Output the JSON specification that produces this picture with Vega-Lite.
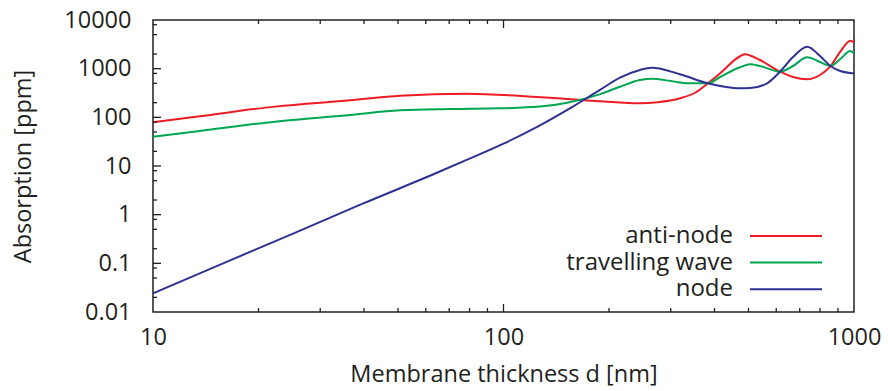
{
  "$schema": "https://vega.github.io/schema/vega-lite/v6.json",
  "width": 701,
  "height": 292,
  "autosize": "none",
  "padding": {"left": 153, "top": 20, "right": 34, "bottom": 79},
  "background": "white",
  "config": {
    "font": "Open Sans",
    "view": {"stroke": "#231f20", "strokeWidth": 1.5},
    "axis": {"domain": false, "ticks": false, "grid": false, "labelColor": "#231f20", "titleColor": "#231f20", "labelFontSize": 23.5, "titleFontSize": 23.5, "titleFontWeight": "normal", "labelOverlap": false, "labelFlush": false}
  },
  "datasets": {
    "xticks": [
      {"t": 20, "kind": "minor"}, {"t": 30, "kind": "minor"}, {"t": 40, "kind": "minor"}, {"t": 50, "kind": "minor"},
      {"t": 60, "kind": "minor"}, {"t": 70, "kind": "minor"}, {"t": 80, "kind": "minor"}, {"t": 90, "kind": "minor"},
      {"t": 100, "kind": "major"},
      {"t": 200, "kind": "minor"}, {"t": 300, "kind": "minor"}, {"t": 400, "kind": "minor"}, {"t": 500, "kind": "minor"},
      {"t": 600, "kind": "minor"}, {"t": 700, "kind": "minor"}, {"t": 800, "kind": "minor"}, {"t": 900, "kind": "minor"}
    ],
    "yticks": [
      {"t": 0.02, "kind": "minor"}, {"t": 0.05, "kind": "minor"}, {"t": 0.08, "kind": "minor"}, {"t": 0.1, "kind": "major"},
      {"t": 0.2, "kind": "minor"}, {"t": 0.5, "kind": "minor"}, {"t": 0.8, "kind": "minor"}, {"t": 1, "kind": "major"},
      {"t": 2, "kind": "minor"}, {"t": 5, "kind": "minor"}, {"t": 8, "kind": "minor"}, {"t": 10, "kind": "major"},
      {"t": 20, "kind": "minor"}, {"t": 50, "kind": "minor"}, {"t": 80, "kind": "minor"}, {"t": 100, "kind": "major"},
      {"t": 200, "kind": "minor"}, {"t": 500, "kind": "minor"}, {"t": 800, "kind": "minor"}, {"t": 1000, "kind": "major"},
      {"t": 2000, "kind": "minor"}, {"t": 5000, "kind": "minor"}, {"t": 8000, "kind": "minor"}
    ],
    "curves": [
      {"d": 10, "A": 79, "s": "anti-node"},
      {"d": 13.6, "A": 105, "s": "anti-node"},
      {"d": 22.3, "A": 166, "s": "anti-node"},
      {"d": 36.5, "A": 224, "s": "anti-node"},
      {"d": 50.7, "A": 279, "s": "anti-node"},
      {"d": 78.7, "A": 306, "s": "anti-node"},
      {"d": 121, "A": 266, "s": "anti-node"},
      {"d": 152, "A": 238, "s": "anti-node"},
      {"d": 167, "A": 227, "s": "anti-node"},
      {"d": 188, "A": 214, "s": "anti-node"},
      {"d": 215, "A": 202, "s": "anti-node"},
      {"d": 245, "A": 195, "s": "anti-node"},
      {"d": 275, "A": 204, "s": "anti-node"},
      {"d": 319, "A": 246, "s": "anti-node"},
      {"d": 352, "A": 320, "s": "anti-node"},
      {"d": 383, "A": 500, "s": "anti-node"},
      {"d": 415, "A": 804, "s": "anti-node"},
      {"d": 473, "A": 1800, "s": "anti-node"},
      {"d": 489, "A": 1973, "s": "anti-node"},
      {"d": 505, "A": 1870, "s": "anti-node"},
      {"d": 539, "A": 1507, "s": "anti-node"},
      {"d": 615, "A": 867, "s": "anti-node"},
      {"d": 670, "A": 674, "s": "anti-node"},
      {"d": 735, "A": 605, "s": "anti-node"},
      {"d": 800, "A": 741, "s": "anti-node"},
      {"d": 855, "A": 1098, "s": "anti-node"},
      {"d": 914, "A": 2233, "s": "anti-node"},
      {"d": 976, "A": 3758, "s": "anti-node"},
      {"d": 1000, "A": 3483, "s": "anti-node"},
      {"d": 10, "A": 40, "s": "travelling wave"},
      {"d": 13.6, "A": 52.4, "s": "travelling wave"},
      {"d": 22.3, "A": 81.5, "s": "travelling wave"},
      {"d": 36.5, "A": 112, "s": "travelling wave"},
      {"d": 50.7, "A": 139, "s": "travelling wave"},
      {"d": 70.3, "A": 148, "s": "travelling wave"},
      {"d": 97.7, "A": 153, "s": "travelling wave"},
      {"d": 127, "A": 166, "s": "travelling wave"},
      {"d": 152, "A": 200, "s": "travelling wave"},
      {"d": 188, "A": 297, "s": "travelling wave"},
      {"d": 215, "A": 426, "s": "travelling wave"},
      {"d": 245, "A": 585, "s": "travelling wave"},
      {"d": 265, "A": 622, "s": "travelling wave"},
      {"d": 300, "A": 558, "s": "travelling wave"},
      {"d": 335, "A": 500, "s": "travelling wave"},
      {"d": 383, "A": 500, "s": "travelling wave"},
      {"d": 415, "A": 674, "s": "travelling wave"},
      {"d": 473, "A": 1067, "s": "travelling wave"},
      {"d": 505, "A": 1230, "s": "travelling wave"},
      {"d": 539, "A": 1135, "s": "travelling wave"},
      {"d": 615, "A": 867, "s": "travelling wave"},
      {"d": 670, "A": 1135, "s": "travelling wave"},
      {"d": 735, "A": 1714, "s": "travelling wave"},
      {"d": 800, "A": 1371, "s": "travelling wave"},
      {"d": 855, "A": 1135, "s": "travelling wave"},
      {"d": 914, "A": 1580, "s": "travelling wave"},
      {"d": 976, "A": 2306, "s": "travelling wave"},
      {"d": 1000, "A": 2070, "s": "travelling wave"},
      {"d": 10, "A": 0.0242, "s": "node"},
      {"d": 15.85, "A": 0.1, "s": "node"},
      {"d": 25.1, "A": 0.407, "s": "node"},
      {"d": 39.8, "A": 1.7, "s": "node"},
      {"d": 63.1, "A": 6.76, "s": "node"},
      {"d": 79.4, "A": 13.8, "s": "node"},
      {"d": 100, "A": 28.8, "s": "node"},
      {"d": 125.9, "A": 66, "s": "node"},
      {"d": 158.5, "A": 170, "s": "node"},
      {"d": 188, "A": 363, "s": "node"},
      {"d": 215, "A": 652, "s": "node"},
      {"d": 245, "A": 939, "s": "node"},
      {"d": 265, "A": 1047, "s": "node"},
      {"d": 319, "A": 766, "s": "node"},
      {"d": 383, "A": 500, "s": "node"},
      {"d": 415, "A": 441, "s": "node"},
      {"d": 473, "A": 395, "s": "node"},
      {"d": 505, "A": 400, "s": "node"},
      {"d": 565, "A": 500, "s": "node"},
      {"d": 615, "A": 867, "s": "node"},
      {"d": 670, "A": 1738, "s": "node"},
      {"d": 735, "A": 2828, "s": "node"},
      {"d": 800, "A": 1820, "s": "node"},
      {"d": 855, "A": 1151, "s": "node"},
      {"d": 914, "A": 896, "s": "node"},
      {"d": 976, "A": 815, "s": "node"},
      {"d": 1000, "A": 804, "s": "node"}
    ]
  },
  "layer": [
    {
      "data": {"name": "curves"},
      "mark": {"type": "line", "interpolate": "monotone", "strokeWidth": 2},
      "encoding": {
        "x": {"field": "d", "type": "quantitative", "title": "Membrane thickness d [nm]",
          "scale": {"type": "log", "domain": [10, 1000], "nice": false},
          "axis": {"orient": "bottom",
            "values": [10, 100, 1000], "format": "d",
            "labelPadding": 13, "titleY": 69, "titleBaseline": "alphabetic"}},
        "y": {"field": "A", "type": "quantitative", "title": "Absorption [ppm]",
          "scale": {"type": "log", "domain": [0.01, 10000], "nice": false},
          "axis": {"orient": "left",
            "values": [0.01, 0.1, 1, 10, 100, 1000, 10000], "format": "~g",
            "labelPadding": 22, "titleX": -130, "titleBaseline": "middle"}},
        "color": {"field": "s", "type": "nominal",
          "scale": {"domain": ["anti-node", "travelling wave", "node"], "range": ["#ed1c24", "#00a651", "#2e3192"]},
          "legend": {"title": null, "orient": "none", "legendX": 621, "legendY": 204, "direction": "vertical",
            "symbolType": "M-9,0H9", "symbolSize": 64, "symbolStrokeWidth": 2, "rowPadding": 2.6,
            "labelAlign": "right", "labelOffset": -65, "labelFontSize": 24, "labelColor": "#231f20", "labelLimit": 400, "padding": 0}}
      }
    },
    {
      "data": {"name": "xticks"},
      "mark": {"type": "tick", "orient": "vertical", "thickness": 1.3, "color": "#231f20", "opacity": 1, "clip": true},
      "encoding": {
        "x": {"field": "t", "type": "quantitative", "title": "Membrane thickness d [nm]"},
        "y": {"datum": 0.01, "type": "quantitative", "title": "Absorption [ppm]"},
        "size": {"field": "kind", "type": "nominal", "scale": {"domain": ["major", "minor"], "range": [16, 8]}, "legend": null}
      }
    },
    {
      "data": {"name": "xticks"},
      "mark": {"type": "tick", "orient": "vertical", "thickness": 1.3, "color": "#231f20", "opacity": 1, "clip": true},
      "encoding": {
        "x": {"field": "t", "type": "quantitative", "title": "Membrane thickness d [nm]"},
        "y": {"datum": 10000, "type": "quantitative", "title": "Absorption [ppm]"},
        "size": {"field": "kind", "type": "nominal", "scale": {"domain": ["major", "minor"], "range": [16, 8]}, "legend": null}
      }
    },
    {
      "data": {"name": "yticks"},
      "mark": {"type": "tick", "orient": "horizontal", "thickness": 1.3, "color": "#231f20", "opacity": 1, "clip": true},
      "encoding": {
        "y": {"field": "t", "type": "quantitative", "title": "Absorption [ppm]"},
        "x": {"datum": 10, "type": "quantitative", "title": "Membrane thickness d [nm]"},
        "size": {"field": "kind", "type": "nominal", "scale": {"domain": ["major", "minor"], "range": [16, 8]}, "legend": null}
      }
    }
  ]
}
